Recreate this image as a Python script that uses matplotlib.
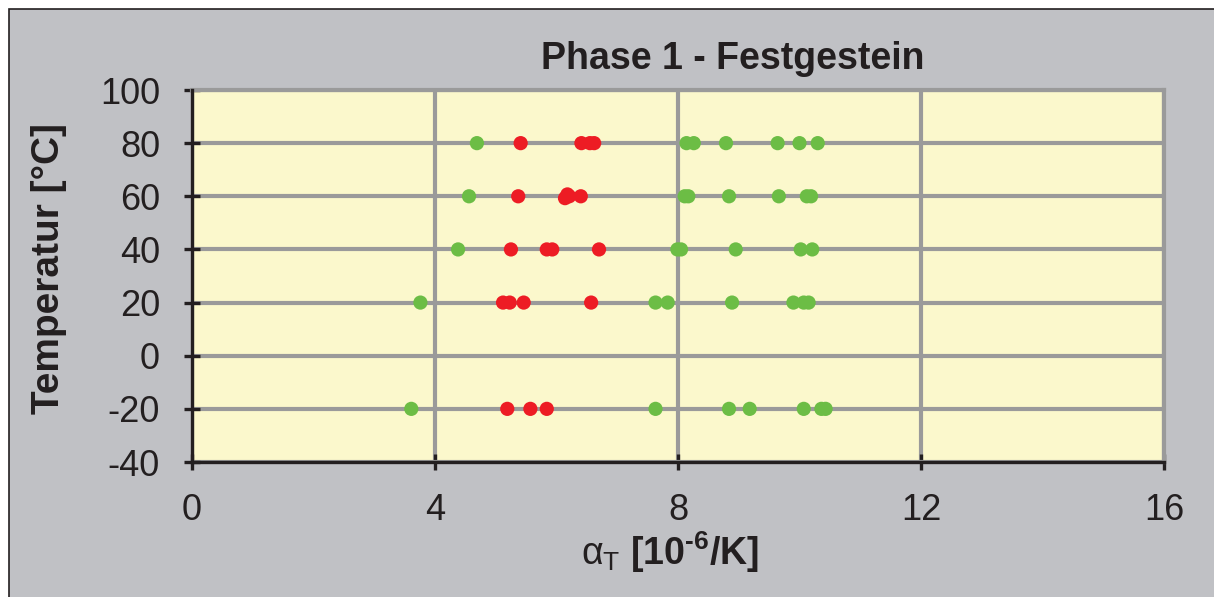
import matplotlib.pyplot as plt
from matplotlib.patches import Rectangle

plt.rcParams['font.family'] = ['Liberation Sans', 'DejaVu Sans']
plt.rcParams['axes.unicode_minus'] = False
plt.rcParams['mathtext.fontset'] = 'custom'
plt.rcParams['mathtext.rm'] = 'Liberation Sans'
plt.rcParams['mathtext.it'] = 'Liberation Sans'
plt.rcParams['mathtext.bf'] = 'Liberation Sans:bold'

# thermal expansion coefficient alpha_T [1e-6/K] per test temperature [°C]
red_alpha = [5.41, 6.41, 6.55, 6.62,
             5.37, 6.14, 6.18, 6.21, 6.40,
             5.25, 5.84, 5.93, 6.70,
             5.12, 5.23, 5.46, 6.57,
             5.19, 5.57, 5.84]
red_temp = [80, 80, 80, 80,
            60, 59.3, 60.7, 60, 60,
            40, 40, 40, 40,
            20, 20, 20, 20,
            -20, -20, -20]

green_alpha = [4.69, 8.14, 8.26, 8.79, 9.64, 10.00, 10.30,
               4.56, 8.11, 8.17, 8.84, 9.66, 10.12, 10.19,
               4.38, 7.99, 8.05, 8.95, 10.02, 10.21,
               3.76, 7.63, 7.83, 8.89, 9.90, 10.07, 10.15,
               3.61, 7.63, 8.84, 9.18, 10.07, 10.36, 10.43]
green_temp = [80] * 7 + [60] * 7 + [40] * 6 + [20] * 7 + [-20] * 7

x_ticks = [0, 4, 8, 12, 16]
y_ticks = [-40, -20, 0, 20, 40, 60, 80, 100]

bg = '#C0C1C5'
plot_bg = '#FBF8CC'
grid_col = '#9A9A9A'
dark = '#231F20'

fig = plt.figure(figsize=(12.14, 5.97), dpi=100, facecolor='white')
fig.patches.append(Rectangle((9 / 1214, -0.05), 1.1, 1 - 9 / 597 + 0.05,
                             transform=fig.transFigure, facecolor=bg,
                             edgecolor=dark, lw=1.2, zorder=-10))

ax = fig.add_axes([192 / 1214, 1 - 462 / 597, (1164 - 192) / 1214, (462 - 90) / 597])
ax.set_facecolor(plot_bg)
ax.set_xlim(0, 16)
ax.set_ylim(-40, 100)
ax.set_xticks(x_ticks)
ax.set_yticks(y_ticks)
ax.set_axisbelow(True)
ax.grid(True, color=grid_col, lw=3)

ax.scatter(red_alpha, red_temp, s=105, color='#ED1C24', edgecolors='none', zorder=3)
ax.scatter(green_alpha, green_temp, s=105, color='#6CBD45', edgecolors='none', zorder=3)

for side in ['left', 'bottom']:
    ax.spines[side].set_color(dark)
    ax.spines[side].set_linewidth(2.4)
    ax.spines[side].set_zorder(4)
for side in ['top', 'right']:
    ax.spines[side].set_color(grid_col)
    ax.spines[side].set_linewidth(3)

ax.tick_params(direction='inout', length=12, width=2.4, color=dark,
               labelsize=26, labelcolor=dark)
ax.tick_params(axis='y', pad=17)
ax.tick_params(axis='x', pad=16)

fig.text(733 / 1214, 1 - 69 / 597, 'Phase 1 - Festgestein', ha='center',
         va='baseline', fontsize=27, fontweight='bold', color=dark)
fig.text(49 / 1214, 1 - 269 / 597, 'Temperatur [°C]', rotation=90, ha='center',
         va='center', fontsize=28, fontweight='bold', color=dark)
fig.text(670 / 1214, 1 - 552 / 597,
         '$\\alpha_\\mathrm{T}$ [10$^{\\mathbf{\u2010}\\mathbf{6}}$/K]',
         ha='center', va='center', fontsize=27, fontweight='bold', color=dark)

fig.savefig('out.png', dpi=100, facecolor=fig.get_facecolor())
